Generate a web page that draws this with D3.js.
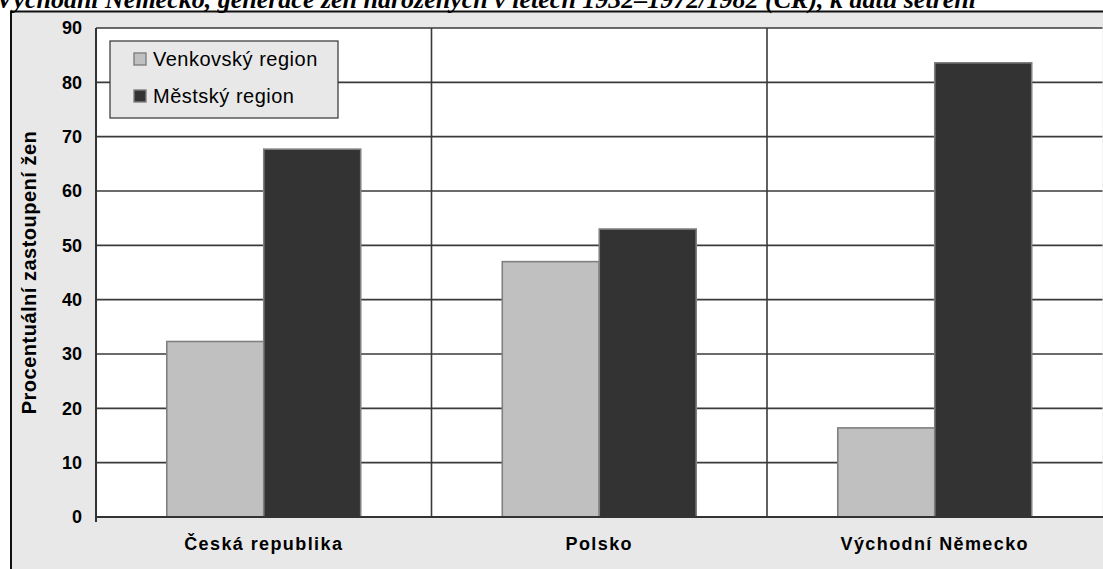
<!DOCTYPE html>
<html><head><meta charset="utf-8">
<script src="https://cdn.jsdelivr.net/npm/d3@7"></script>
<style>
html,body{margin:0;padding:0;background:#fff;}
svg{display:block;}
</style></head>
<body>
<svg id="chart" width="1103" height="569"></svg>
<script>
const title = "Východní Německo, generace žen narozených v letech 1932–1972/1982 (ČR), k datu šetření";
const categories = ["Česká republika", "Polsko", "Východní Německo"];
const seriesNames = ["Venkovský region", "Městský region"];
const rural = [32.3, 47.0, 16.4];
const urban = [67.7, 53.0, 83.6];
const yTicks = [0, 10, 20, 30, 40, 50, 60, 70, 80, 90];
const yTitle = "Procentuální zastoupení žen";
const colors = ["#c0c0c0", "#333333"];

const svg = d3.select("#chart");
const W = 1103, H = 569;

// outer chart frame
svg.append("rect").attr("x", 11).attr("y", 11.5).attr("width", W + 20).attr("height", H + 20)
  .attr("fill", "#e8e8e8").attr("stroke", "#111").attr("stroke-width", 2);

// title (clipped at the top edge, as in the source)
svg.append("text").attr("x", -4).attr("y", 8)
  .attr("font-family", "'Liberation Serif','Times New Roman',serif")
  .attr("font-weight", "bold").attr("font-style", "italic")
  .attr("font-size", 26).attr("fill", "#000").text(title);

const plot = {l: 96, r: 1102.5, t: 28, b: 517};
const x = d3.scaleBand().domain(categories).range([plot.l, plot.r]).paddingInner(0).paddingOuter(0);
const xs = d3.scaleBand().domain(seriesNames).range([0, x.bandwidth()]).paddingInner(0).paddingOuter(0.73);
const y = d3.scaleLinear().domain([0, 90]).range([plot.b, plot.t]);

svg.append("rect").attr("x", plot.l).attr("y", plot.t).attr("width", plot.r - plot.l).attr("height", plot.b - plot.t)
  .attr("fill", "#fff");

// horizontal gridlines
svg.append("g").selectAll("line").data(yTicks).join("line")
  .attr("x1", plot.l).attr("x2", plot.r)
  .attr("y1", d => y(d)).attr("y2", d => y(d))
  .attr("stroke", "#3a3a3a").attr("stroke-width", 1.6);

// vertical gridlines at category boundaries
svg.append("g").selectAll("line").data(categories.slice(1)).join("line")
  .attr("x1", d => x(d)).attr("x2", d => x(d))
  .attr("y1", plot.t).attr("y2", plot.b)
  .attr("stroke", "#3a3a3a").attr("stroke-width", 1.6);

// bars
const data = categories.map((c, i) => ({c, vals: [rural[i], urban[i]]}));
const groups = svg.append("g").selectAll("g").data(data).join("g")
  .attr("transform", d => `translate(${x(d.c)},0)`);
groups.selectAll("rect").data(d => d.vals.map((v, j) => ({s: seriesNames[j], v, j}))).join("rect")
  .attr("x", d => xs(d.s)).attr("width", xs.bandwidth())
  .attr("y", d => y(d.v)).attr("height", d => y(0) - y(d.v))
  .attr("fill", d => colors[d.j]).attr("stroke", "#808080").attr("stroke-width", 1.6);

// axes lines
svg.append("line").attr("x1", plot.l).attr("x2", plot.l).attr("y1", plot.t).attr("y2", plot.b + 5)
  .attr("stroke", "#333").attr("stroke-width", 2);
svg.append("line").attr("x1", plot.l).attr("x2", plot.r + 2).attr("y1", plot.b).attr("y2", plot.b)
  .attr("stroke", "#333").attr("stroke-width", 2);

// y axis labels via d3 axis
const yAxis = svg.append("g").attr("transform", `translate(${plot.l},0)`)
  .call(d3.axisLeft(y).tickValues(yTicks).tickSize(0).tickPadding(14));
yAxis.select(".domain").remove();
yAxis.selectAll("text").attr("font-family", "'Liberation Sans',Arial,sans-serif")
  .attr("font-weight", "bold").attr("font-size", 18).attr("fill", "#000");

// x axis labels
const xAxis = svg.append("g").attr("transform", `translate(0,${plot.b})`)
  .call(d3.axisBottom(x).tickSize(0).tickPadding(20));
xAxis.select(".domain").remove();
xAxis.selectAll("text").attr("font-family", "'Liberation Sans',Arial,sans-serif")
  .attr("font-weight", "bold").attr("font-size", 18).attr("letter-spacing", "1.4px").attr("fill", "#000");

// y title
svg.append("text").attr("transform", `translate(36,${(plot.t + plot.b) / 2}) rotate(-90)`)
  .attr("text-anchor", "middle")
  .attr("font-family", "'Liberation Sans',Arial,sans-serif")
  .attr("font-weight", "bold").attr("font-size", 20).attr("letter-spacing", "0.5px")
  .attr("fill", "#000").text(yTitle);

// legend
const lg = svg.append("g");
lg.append("rect").attr("x", 110).attr("y", 41).attr("width", 228).attr("height", 77)
  .attr("fill", "#e8e8e8").attr("stroke", "#333").attr("stroke-width", 1.2);
const li = lg.selectAll("g").data(seriesNames).join("g")
  .attr("transform", (d, i) => `translate(134,${59 + i * 37})`);
li.append("rect").attr("x", 0).attr("y", -6).attr("width", 12).attr("height", 12)
  .attr("fill", (d, i) => colors[i]).attr("stroke", "#808080").attr("stroke-width", 1.4);
li.append("text").attr("x", 19).attr("y", 7)
  .attr("font-family", "'Liberation Sans',Arial,sans-serif")
  .attr("font-size", 20).attr("letter-spacing", "0.5px").attr("fill", "#000").text(d => d);
</script>
</body></html>
